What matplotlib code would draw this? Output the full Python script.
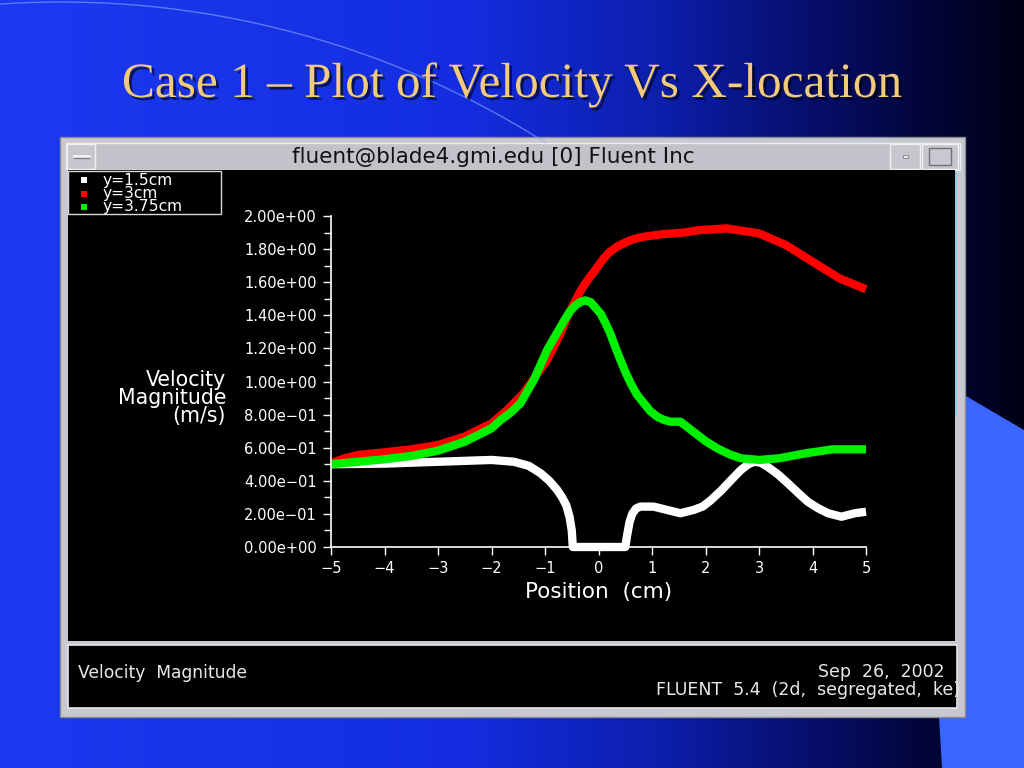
import numpy as np
import matplotlib.pyplot as plt
import matplotlib.patheffects as pe
from matplotlib.patches import Rectangle, Polygon
from matplotlib.ticker import MultipleLocator, FuncFormatter

# values: velocity magnitude (m/s) vs position (cm)
pos_15 = [-5.0, -4.0, -3.0, -2.0, -1.58, -1.3, -1.08, -0.92, -0.77, -0.68, -0.6, -0.54, -0.5,
          -0.48, 0.5, 0.54, 0.58, 0.63, 0.7, 0.78, 1.03, 1.28, 1.53, 1.78, 1.95, 2.09, 2.29,
          2.48, 2.66, 2.8, 2.91, 3.03, 3.16, 3.35, 3.54, 3.72, 3.91, 4.1, 4.29, 4.54, 4.79, 5.0]
vel_15 = [0.50, 0.504, 0.515, 0.526, 0.515, 0.49, 0.445, 0.40, 0.344, 0.30, 0.25, 0.18, 0.10,
          0.0, 0.0, 0.08, 0.15, 0.20, 0.232, 0.244, 0.244, 0.224, 0.204, 0.224, 0.245, 0.28,
          0.34, 0.405, 0.465, 0.50, 0.515, 0.51, 0.485, 0.44, 0.385, 0.33, 0.274, 0.235, 0.204,
          0.183, 0.204, 0.213]

pos_30 = [-5.0, -4.75, -4.5, -4.0, -3.5, -3.0, -2.5, -2.0, -1.7, -1.4, -1.2, -0.96, -0.71,
          -0.6, -0.46, -0.35, -0.21, 0.0, 0.1, 0.2, 0.35, 0.5, 0.65, 0.85, 1.2, 1.6, 1.9, 2.4,
          3.0, 3.5, 4.0, 4.5, 5.0]
vel_30 = [0.506, 0.535, 0.556, 0.572, 0.590, 0.616, 0.667, 0.747, 0.83, 0.929, 1.02, 1.13, 1.29,
          1.38, 1.47, 1.54, 1.61, 1.70, 1.745, 1.78, 1.815, 1.84, 1.86, 1.875, 1.89, 1.90,
          1.915, 1.925, 1.895, 1.825, 1.724, 1.624, 1.557]

pos_375 = [-5.0, -4.5, -4.0, -3.5, -3.0, -2.5, -2.0, -1.83, -1.65, -1.46, -1.21, -0.96, -0.71,
           -0.6, -0.52, -0.43, -0.34, -0.25, -0.15, 0.04, 0.12, 0.22, 0.3, 0.41, 0.5, 0.60,
           0.72, 0.85, 0.97, 1.10, 1.22, 1.35, 1.53, 1.68, 1.84, 2.0, 2.22, 2.45, 2.66, 3.0,
           3.37, 3.87, 4.37, 5.0]
vel_375 = [0.50, 0.515, 0.53, 0.55, 0.582, 0.636, 0.717, 0.767, 0.81, 0.868, 1.009, 1.19, 1.33,
           1.39, 1.43, 1.46, 1.48, 1.49, 1.48, 1.41, 1.36, 1.29, 1.22, 1.13, 1.06, 0.99,
           0.92, 0.868, 0.82, 0.787, 0.768, 0.757, 0.757, 0.72, 0.68, 0.64, 0.596, 0.56,
           0.536, 0.526, 0.536, 0.566, 0.590, 0.590]

series_labels = ['y=1.5cm', 'y=3cm', 'y=3.75cm']
series_colors = ['#ffffff', '#ff0000', '#00f000']

W, H = 1024, 768
fig = plt.figure(figsize=(10.24, 7.68), dpi=100)

# slide background, drawn in pixel coordinates
bg = fig.add_axes([0, 0, 1, 1])
stops_pos = [0.0, 0.45, 0.65, 0.8, 0.92, 1.0]
stops_rgb = np.array([[28, 58, 240], [20, 45, 225], [12, 30, 170],
                      [6, 14, 105], [2, 4, 50], [0, 0, 22]]) / 255.0
u = np.linspace(0, 1, 512)
grad = np.stack([np.interp(u, stops_pos, stops_rgb[:, k]) for k in range(3)], axis=-1)[None]
bg.imshow(grad, extent=[0, W, H, 0], aspect='auto', interpolation='bilinear')
bg.set_xlim(0, W)
bg.set_ylim(H, 0)
bg.axis('off')

# faint arc across the top left
arc_x = np.linspace(0, 545, 200)
arc_y = 907 - np.sqrt(905.0 ** 2 - (arc_x - 61) ** 2)
bg.plot(arc_x, arc_y, color='#8aa8ff', lw=1, alpha=0.6)

# light blue block at the right
bg.add_patch(Polygon([(930, 375), (1024, 430), (1024, 768), (942, 768), (938, 700)],
                     closed=True, fc='#3a66ff', ec='none'))

bg.text(512, 97, 'Case 1 \u2013 Plot of Velocity Vs X-location', ha='center', va='baseline',
        fontsize=35.5, family='Liberation Serif', color='#f2ca7c',
        path_effects=[pe.withSimplePatchShadow(offset=(2, -2), shadow_rgbFace='black', alpha=0.6)])

# Fluent window
bg.add_patch(Rectangle((60, 137), 905, 580, fc='#c8c8d0', ec='#8a8a92', lw=1))
bg.add_patch(Rectangle((66, 143), 894, 27, fc='#c2c2ca', ec='#ececf2', lw=1))
bg.add_patch(Rectangle((67, 144), 28, 25, fc='#c6c6ce', ec='#f0f0f4', lw=1))
bg.plot([74, 89], [156, 156], color='#f4f4f8', lw=2)
bg.plot([74, 89], [158, 158], color='#808088', lw=1)
bg.add_patch(Rectangle((890, 144), 30, 25, fc='#c6c6ce', ec='#f0f0f4', lw=1))
bg.add_patch(Rectangle((903, 155), 5, 3, fc='#e8e8ee', ec='#808088', lw=0.6))
bg.add_patch(Rectangle((922, 144), 36, 25, fc='#c6c6ce', ec='#f0f0f4', lw=1))
bg.add_patch(Rectangle((929, 148), 22, 17, fc='#c8c8d0', ec='#70707a', lw=1))
bg.text(493, 157, 'fluent@blade4.gmi.edu [0] Fluent Inc', ha='center', va='center',
        fontsize=15.5, color='#111111')
bg.add_patch(Rectangle((68, 170), 887, 471, fc='black', ec='none'))
bg.plot([956, 956], [172, 415], color='#7fd0e0', lw=1.2)
panel = Rectangle((68, 645), 889, 63, fc='black', ec='#e6e6e6', lw=1.2)
bg.add_patch(panel)
bg.text(78, 673, 'Velocity  Magnitude', ha='left', va='center', fontsize=12.3, color='#e8e8e8')
bg.text(945, 672, 'Sep  26,  2002', ha='right', va='center', fontsize=12.5, color='#e8e8e8')
t = bg.text(960, 690, 'FLUENT  5.4  (2d,  segregated,  ke)', ha='right', va='center',
            fontsize=12.5, color='#e8e8e8')
t.set_clip_path(panel)

# legend box
bg.add_patch(Rectangle((68, 171), 153, 43, fc='black', ec='#d8d8d8', lw=1))
for i, (lab, col) in enumerate(zip(series_labels, series_colors)):
    yy = 180 + i * 13.5
    bg.add_patch(Rectangle((81, yy - 3), 6, 6, fc=col, ec='none'))
    bg.text(103, yy, lab, ha='left', va='center', fontsize=11.2, color='white')

# the plot itself
ax = fig.add_axes([331 / W, 1 - 547 / H, 535 / W, 331 / H])
ax.set_facecolor('none')
for xs, vs, col in zip([pos_15, pos_30, pos_375], [vel_15, vel_30, vel_375], series_colors):
    ax.plot(xs, vs, color=col, lw=6, solid_joinstyle='round', solid_capstyle='butt', clip_on=False)

ax.set_xlim(-5, 5)
ax.set_ylim(0, 2)
ax.xaxis.set_major_locator(MultipleLocator(1))
ax.yaxis.set_major_locator(MultipleLocator(0.2))
ax.yaxis.set_minor_locator(MultipleLocator(0.1))
ax.yaxis.set_major_formatter(FuncFormatter(lambda v, p: ('%.2e' % v).replace('-', '\u2212')))
for s in ['top', 'right']:
    ax.spines[s].set_visible(False)
for s in ['left', 'bottom']:
    ax.spines[s].set_color('white')
    ax.spines[s].set_linewidth(1.2)
ax.tick_params(colors='white', labelsize=10.5, length=6, width=1, direction='out', pad=4)
ax.tick_params(which='minor', colors='white', length=5, width=1)

ax.set_xlabel('Position  (cm)', fontsize=15.5, color='white')
ax.xaxis.label.set_va('center')
ax.xaxis.set_label_coords(0.5, -0.136)
ax.set_ylabel('Velocity\nMagnitude\n(m/s)', fontsize=14.8, color='white', rotation=0,
              ha='right', va='center', multialignment='right', linespacing=0.9)
ax.yaxis.set_label_coords(-0.196, 0.45)

fig.savefig('out.png', dpi=100)
